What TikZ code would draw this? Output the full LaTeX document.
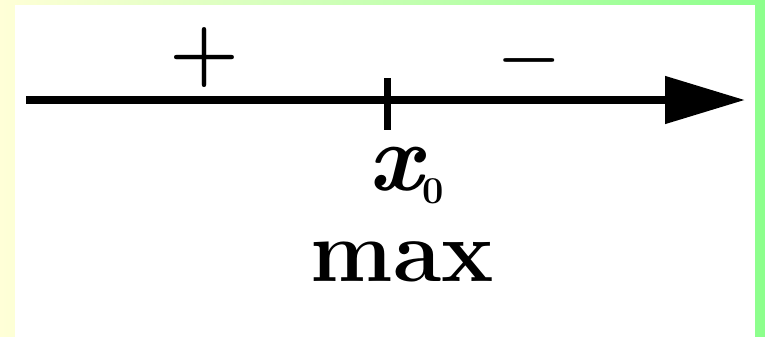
\documentclass[tikz,border=0pt]{standalone}
\usepackage{fontspec}
\usetikzlibrary{arrows.meta}
\definecolor{bgleft}{RGB}{255,255,215}
\definecolor{bgright}{RGB}{140,255,140}
\tikzset{
  axisline/.style={line width=8pt, -{Triangle[length=80pt,width=46pt]}},
  tickmark/.style={line width=7pt},
  signlabel/.style={inner sep=0pt, anchor=center},
  biglabel/.style={inner sep=0pt, anchor=base}
}
\begin{document}
\begin{tikzpicture}[x=1pt,y=-1pt]
  \useasboundingbox (0,0) rectangle (765,337);
  \shade[left color=bgleft, right color=bgright] (0,0) rectangle (765,337);
  \fill[white] (15,5) rectangle (755,337);
  \coordinate (s) at (26,100);
  \coordinate (e) at (745,100);
  \coordinate (t1) at (387,78);
  \coordinate (t2) at (387,130);
  \draw[axisline] (s) -- (e);
  \draw[tickmark] (t1) -- (t2);
  \node[signlabel] (plus) at (204,58) {\fontsize{80}{90}\selectfont\bfseries +};
  \node[signlabel] (minus) at (529,68) {\fontsize{68}{80}\selectfont\bfseries −};
  \node[biglabel] (x0) at (406,190) {\fontsize{96}{100}\selectfont\bfseries\itshape x\raisebox{-13pt}{\fontsize{38}{44}\selectfont\upshape 0}};
  \node[biglabel] (max) at (402,281) {\fontsize{88}{95}\selectfont\bfseries max};
\end{tikzpicture}
\end{document}
